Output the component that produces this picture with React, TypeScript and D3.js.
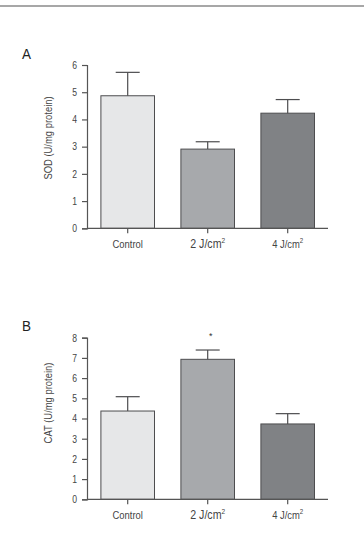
import React, { useEffect, useRef } from 'react';
import * as d3 from 'd3';

const categories = ['Control', '2 J/cm', '4 J/cm'];
const superscripts = ['', '2', '2'];
const sodValues = [4.87, 2.91, 4.23];
const sodErrors = [0.86, 0.27, 0.5];
const catValues = [4.37, 6.93, 3.73];
const catErrors = [0.71, 0.46, 0.51];
const sodTicks = [0, 1, 2, 3, 4, 5, 6];
const catTicks = [0, 1, 2, 3, 4, 5, 6, 7, 8];
const catStars = ['', '*', ''];

const fills = ['#e6e7e8', '#a7a9ac', '#808285'];
const font = '"Liberation Sans", Arial, sans-serif';
const squeeze = 0.82;

const App: React.FC = () => {
  const svgRef = useRef<SVGSVGElement | null>(null);

  useEffect(() => {
    if (!svgRef.current) return;
    const svg = d3.select(svgRef.current);
    svg.selectAll('*').remove();

    // top rule
    svg.append('line')
      .attr('x1', 0).attr('x2', 364).attr('y1', 6).attr('y2', 6)
      .attr('stroke', '#8a8a8a').attr('stroke-width', 1.5);

    // condensed text helper
    const label = (g: any, x: number, y: number, txt: string, size: number, anchor: string) =>
      g.append('text')
        .attr('transform', `translate(${x},${y}) scale(${squeeze},1)`)
        .attr('text-anchor', anchor).attr('font-family', font).attr('font-size', size)
        .attr('fill', '#444').text(txt);

    const drawPanel = (
      letter: string,
      letterY: number,
      values: number[],
      errors: number[],
      ticks: number[],
      top: number,
      bottom: number,
      yLabel: string,
      labelY: number,
      stars: string[]
    ) => {
      const axisX = 87;
      const x = d3.scaleBand().domain(categories).range([87.7, 327.7]).paddingInner(0.33).paddingOuter(0.165);
      const y = d3.scaleLinear().domain([0, d3.max(ticks) || 0]).range([bottom, top]);
      const g = svg.append('g');

      g.append('text').attr('transform', `translate(22,${letterY}) scale(0.9,1)`).text(letter)
        .attr('font-family', font).attr('font-size', 15).attr('fill', '#222');

      // bars
      g.selectAll('.bar').data(values).enter().append('rect')
        .attr('x', (d, i) => x(categories[i]) || 0)
        .attr('y', d => y(d))
        .attr('width', x.bandwidth())
        .attr('height', d => y(0) - y(d))
        .attr('fill', (d, i) => fills[i])
        .attr('stroke', '#4d4d4f').attr('stroke-width', 1);

      // error bars
      values.forEach((v, i) => {
        const cx = (x(categories[i]) || 0) + x.bandwidth() / 2;
        const ey = y(v + errors[i]);
        g.append('line').attr('x1', cx).attr('x2', cx).attr('y1', y(v)).attr('y2', ey)
          .attr('stroke', '#4d4d4f').attr('stroke-width', 1.2);
        g.append('line').attr('x1', cx - 12).attr('x2', cx + 12).attr('y1', ey).attr('y2', ey)
          .attr('stroke', '#4d4d4f').attr('stroke-width', 1.2);
        if (stars[i]) {
          g.append('text').attr('x', cx + 3).attr('y', ey - 11).text(stars[i])
            .attr('text-anchor', 'middle').attr('font-family', font).attr('font-size', 9).attr('fill', '#333');
        }
      });

      // y axis
      const yAxis = g.append('g').attr('transform', `translate(${axisX},0)`)
        .call(d3.axisLeft(y).tickValues(ticks).tickFormat(() => '').tickSizeOuter(0).tickSize(5));
      yAxis.select('.domain').attr('stroke', '#555').attr('stroke-width', 1.2);
      yAxis.selectAll('.tick line').attr('stroke', '#555').attr('stroke-width', 1.2);
      ticks.forEach(t => label(g, axisX - 10, y(t) + 3.8, String(t), 10.5, 'end'));

      // x axis
      g.append('line').attr('x1', axisX).attr('x2', 328).attr('y1', bottom).attr('y2', bottom)
        .attr('stroke', '#555').attr('stroke-width', 1.2);
      categories.forEach((c, i) => {
        const cx = (x(c) || 0) + x.bandwidth() / 2;
        g.append('line').attr('x1', cx).attr('x2', cx).attr('y1', bottom).attr('y2', bottom + 5)
          .attr('stroke', '#555').attr('stroke-width', 1.2);
        const t = label(g, cx, bottom + 20, c, i === 1 ? 13 : 11.5, 'middle');
        if (superscripts[i]) {
          t.append('tspan').attr('dy', -5).attr('font-size', i === 1 ? 8 : 7.5).text(superscripts[i]);
        }
      });

      // y label
      g.append('text').attr('transform', `translate(52,${labelY}) rotate(-90) scale(${squeeze},1)`)
        .attr('text-anchor', 'middle').attr('font-family', font).attr('font-size', 11.5).attr('fill', '#444')
        .text(yLabel);
    };

    drawPanel('A', 59, sodValues, sodErrors, sodTicks, 65, 228.3, 'SOD (U/mg protein)', 138, ['', '', '']);
    drawPanel('B', 331, catValues, catErrors, catTicks, 337.7, 499.3, 'CAT (U/mg protein)', 403, catStars);
  }, []);

  return (
    <svg ref={svgRef} width={364} height={548}
      style={{ position: 'absolute', left: 0, top: 0, background: '#fff' }} />
  );
};

export default App;
